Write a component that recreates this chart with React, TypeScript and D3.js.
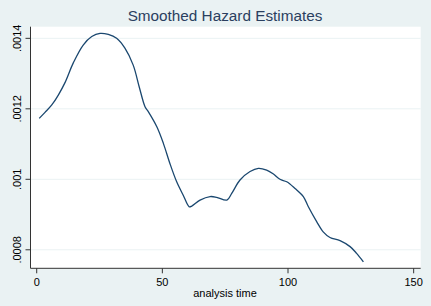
import React from "react";
import * as d3 from "d3";

const timeValues = [1.0, 3.3, 6.0, 8.6, 11.3, 14.6, 18.5, 21.9, 25.2, 28.5, 31.8, 35.1, 38.4, 40.8, 43.1, 44.4, 47.8, 50.4, 53.0, 55.7, 58.3, 60.7, 61.7, 65.0, 69.0, 71.6, 75.7, 77.6, 80.9, 84.9, 88.2, 91.5, 94.2, 96.8, 99.5, 102.8, 106.1, 108.1, 111.4, 114.0, 116.7, 120.7, 124.7, 127.3, 130.0];
const hazardValues = [0.001173, 0.00119, 0.001211, 0.001239, 0.001275, 0.001331, 0.001381, 0.001405, 0.001414, 0.001411, 0.0014, 0.001372, 0.001324, 0.001262, 0.001206, 0.001192, 0.001149, 0.001102, 0.001045, 0.000993, 0.000955, 0.000922, 0.000924, 0.000941, 0.000951, 0.000949, 0.000941, 0.00096, 0.000998, 0.001022, 0.001031, 0.001026, 0.001015, 0.001, 0.000993, 0.000974, 0.000951, 0.000922, 0.00088, 0.000851, 0.000835, 0.000826, 0.000809, 0.00079, 0.000766];

const xTicks = [0, 50, 100, 150];
const xTickLabels = ["0", "50", "100", "150"];
const yTicks = [0.0008, 0.001, 0.0012, 0.0014];
const yTickLabels = [".0008", ".001", ".0012", ".0014"];

const title = "Smoothed Hazard Estimates";
const xTitle = "analysis time";

export default function App() {
  const W = 431, H = 306;
  const left = 30.5, right = 420.7, top = 26.7, bottom = 268.3;
  const x = d3.scaleLinear().domain([-2.47, 152.8]).range([left, right]);
  const y = d3.scaleLinear().domain([0.0007475, 0.001433]).range([bottom, top]);
  const data = timeValues.map((t, i) => [t, hazardValues[i]] as [number, number]);
  const line = d3.line<[number, number]>().x(d => x(d[0])).y(d => y(d[1])).curve(d3.curveCatmullRom.alpha(0.5));
  const font = "Liberation Sans, Arial, Helvetica, sans-serif";

  return (
    <svg width={W} height={H} style={{ position: "absolute", left: 0, top: 0 }} fontFamily={font}>
      <rect x={0} y={0} width={W} height={H} fill="#EAF2F3" />
      <rect x={left} y={top} width={right - left} height={bottom - top} fill="#FFFFFF" />
      {yTicks.map((v, i) => (
        <line key={"g" + i} x1={left} x2={right} y1={y(v)} y2={y(v)} stroke="#EAF2F3" strokeWidth={1} />
      ))}
      <path d={line(data) || ""} fill="none" stroke="#1A476F" strokeWidth={1.3} />
      <line x1={left} x2={left} y1={top} y2={bottom} stroke="#333" strokeWidth={1} />
      <line x1={left} x2={right} y1={bottom} y2={bottom} stroke="#333" strokeWidth={1} />
      {yTicks.map((v, i) => (
        <g key={"y" + i}>
          <line x1={left - 5} x2={left} y1={y(v)} y2={y(v)} stroke="#333" strokeWidth={1} />
          <text transform={`translate(21.3,${y(v)}) rotate(-90)`} textAnchor="middle" fontSize={11} fill="#000">
            {yTickLabels[i]}
          </text>
        </g>
      ))}
      {xTicks.map((v, i) => (
        <g key={"x" + i}>
          <line x1={x(v)} x2={x(v)} y1={bottom} y2={bottom + 5} stroke="#333" strokeWidth={1} />
          <text x={x(v)} y={285.5} textAnchor="middle" fontSize={11} fill="#000">
            {xTickLabels[i]}
          </text>
        </g>
      ))}
      <text x={225} y={296.5} textAnchor="middle" fontSize={11} fill="#000">{xTitle}</text>
      <text x={225} y={21} textAnchor="middle" fontSize={15.3} fill="#2A3F5F">{title}</text>
    </svg>
  );
}
